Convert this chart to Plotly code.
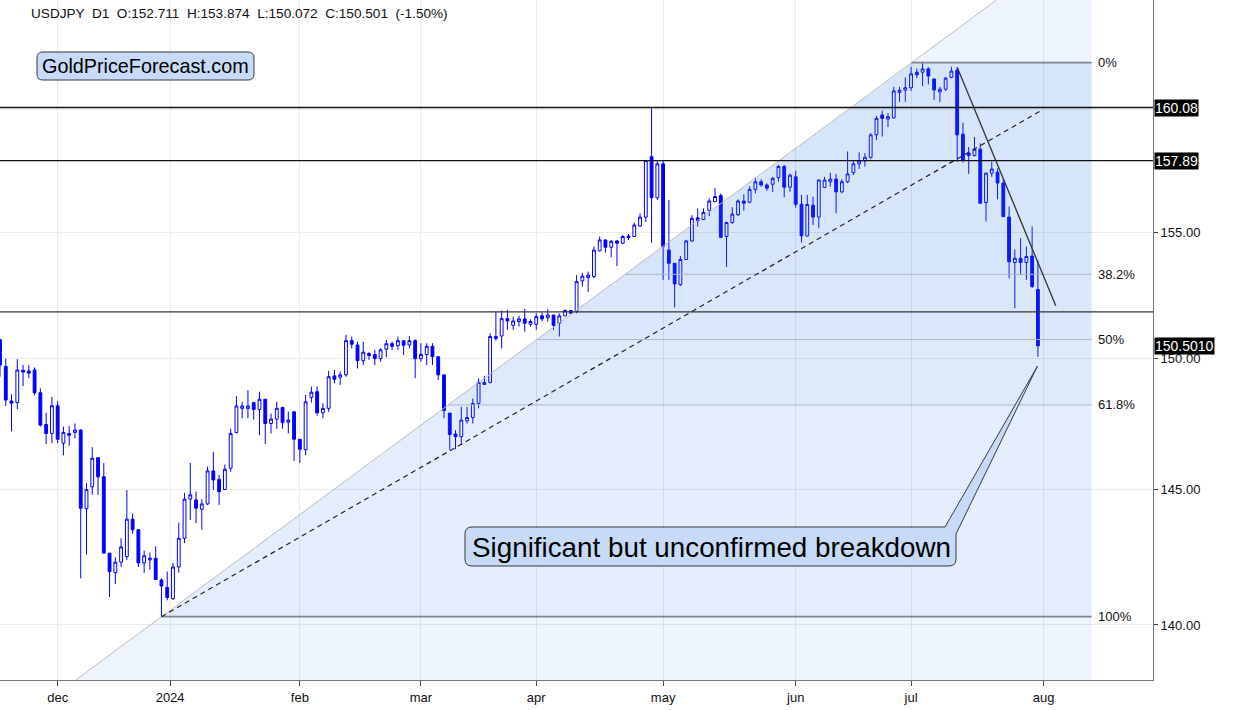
import math
import plotly.graph_objects as go

# ---------------- data ----------------
bar_index = list(range(181))

opens = [
    150.73, 149.70, 148.36, 148.30, 149.55, 149.52, 149.56, 148.68, 147.46, 147.12,
    148.18, 146.75, 147.12, 147.16, 147.25, 144.28, 145.10, 146.20, 145.48, 142.63,
    141.91, 142.30, 142.50, 143.89, 143.50, 142.27, 142.38, 142.44, 141.64, 141.37,
    140.96, 142.12, 143.18, 144.64, 144.61, 144.26, 144.46, 145.70, 145.38, 145.00,
    145.80, 147.16, 148.08, 148.08, 148.30, 148.04, 148.43, 147.50, 147.67, 148.12,
    147.55, 147.95, 146.90, 146.50, 148.50, 148.72, 147.91, 148.08, 149.33, 149.28,
    149.37, 150.70, 150.53, 149.92, 150.20, 150.16, 150.00, 150.37, 150.58, 150.50,
    150.70, 150.53, 150.70, 150.00, 150.16, 150.48, 150.07, 149.37, 147.90, 147.10,
    147.00, 147.60, 147.73, 148.27, 149.00, 149.08, 150.78, 150.88, 151.56, 151.30,
    151.45, 151.55, 151.34, 151.34, 151.67, 151.60, 151.70, 151.38, 151.67, 151.88,
    151.84, 153.05, 153.18, 153.22, 154.25, 154.68, 154.39, 154.64, 154.55, 154.84,
    154.82, 155.24, 155.60, 158.05, 156.38, 157.76, 154.28, 153.75, 152.90, 153.90,
    154.64, 155.57, 155.50, 155.87, 156.22, 156.47, 154.82, 155.38, 155.70, 156.25,
    156.20, 156.72, 157.03, 156.90, 156.93, 157.20, 157.65, 156.81, 157.23, 156.12,
    154.84, 156.08, 155.60, 156.80, 157.03, 157.14, 156.62, 157.03, 157.40, 157.76,
    157.88, 158.03, 158.95, 159.77, 159.60, 159.65, 160.70, 160.80, 160.90, 161.55,
    161.55, 161.69, 161.27, 160.73, 160.84, 161.33, 161.64, 158.98, 158.20, 158.10,
    158.36, 156.19, 157.38, 157.42, 156.98, 155.60, 153.78, 153.95, 153.78, 154.04,
    152.711,
]
highs = [
    150.77, 150.00, 148.62, 149.98, 149.75, 149.75, 149.66, 148.85, 147.91, 148.53,
    148.36, 147.38, 147.40, 147.50, 147.28, 145.24, 146.60, 146.20, 146.00, 142.63,
    142.48, 143.18, 144.98, 144.10, 143.50, 142.72, 142.65, 142.88, 141.70, 141.95,
    142.27, 143.76, 144.87, 146.00, 144.93, 144.64, 145.87, 146.42, 145.55, 145.94,
    147.30, 148.55, 148.33, 148.78, 148.33, 148.72, 148.43, 147.88, 148.33, 148.12,
    147.95, 147.95, 146.90, 148.60, 148.92, 148.92, 148.27, 149.53, 149.56, 149.50,
    150.93, 150.86, 150.66, 150.66, 150.25, 150.34, 150.40, 150.73, 150.66, 150.86,
    150.70, 150.88, 150.75, 150.60, 150.60, 150.60, 150.07, 149.37, 147.90, 147.25,
    148.14, 148.14, 148.46, 149.24, 149.33, 150.99, 151.83, 151.88, 151.90, 151.64,
    151.67, 151.95, 151.53, 151.77, 151.80, 151.93, 151.70, 151.77, 151.93, 151.90,
    153.28, 153.37, 153.42, 154.42, 154.82, 154.70, 154.68, 154.68, 154.88, 154.92,
    155.38, 155.75, 157.92, 160.08, 157.92, 157.90, 156.29, 153.75, 154.04, 154.68,
    155.68, 155.95, 155.95, 156.36, 156.77, 156.56, 155.42, 156.00, 156.32, 156.52,
    156.85, 157.20, 157.13, 156.97, 157.23, 157.72, 157.72, 157.37, 157.48, 156.50,
    156.50, 156.43, 157.13, 157.23, 157.40, 157.35, 157.13, 158.27, 157.92, 158.23,
    158.20, 159.02, 159.73, 159.95, 159.85, 160.94, 160.94, 161.33, 161.78, 161.71,
    161.99, 161.76, 161.27, 160.94, 161.36, 161.78, 161.75, 159.45, 158.45, 158.86,
    158.60, 157.40, 157.85, 157.58, 157.17, 156.03, 154.30, 154.75, 154.42, 155.22,
    153.874,
]
lows = [
    149.30, 148.17, 147.20, 148.05, 148.94, 149.24, 148.58, 147.38, 146.72, 146.75,
    146.75, 146.29, 146.65, 146.93, 141.70, 142.57, 144.80, 144.80, 142.63, 141.02,
    141.49, 142.12, 142.38, 143.35, 142.12, 141.90, 142.02, 141.64, 140.33, 140.90,
    140.91, 141.91, 143.00, 143.86, 143.74, 143.50, 144.42, 144.98, 144.42, 144.98,
    145.67, 147.12, 147.70, 147.70, 147.65, 147.05, 146.72, 147.12, 147.30, 147.30,
    147.12, 146.08, 146.00, 146.30, 148.30, 147.80, 147.70, 147.95, 149.04, 148.98,
    149.30, 150.40, 149.62, 149.75, 149.95, 149.75, 149.88, 150.05, 150.34, 150.34,
    150.14, 150.40, 149.24, 149.88, 149.75, 149.75, 149.17, 147.70, 146.50, 146.52,
    146.68, 147.50, 147.50, 148.08, 148.98, 149.04, 150.70, 150.40, 151.12, 151.12,
    151.25, 151.05, 151.25, 151.12, 151.45, 151.45, 151.12, 150.86, 151.67, 151.77,
    151.77, 152.82, 152.62, 153.15, 154.22, 154.18, 154.00, 153.64, 154.52, 154.68,
    154.80, 155.20, 155.40, 154.57, 156.29, 153.09, 153.09, 152.00, 152.85, 153.88,
    154.61, 155.22, 155.48, 155.64, 156.22, 154.75, 153.60, 155.33, 155.64, 155.86,
    156.16, 156.56, 156.83, 156.67, 156.62, 157.03, 156.40, 156.62, 155.98, 154.58,
    154.82, 155.28, 155.15, 156.77, 156.83, 155.75, 156.56, 156.97, 157.30, 157.55,
    157.65, 157.95, 158.74, 158.88, 159.27, 159.63, 160.32, 160.32, 160.77, 161.30,
    160.98, 161.04, 160.39, 160.30, 160.77, 161.30, 157.85, 157.82, 157.35, 158.07,
    156.16, 155.42, 157.23, 156.32, 155.62, 153.15, 151.97, 153.28, 153.09, 152.77,
    150.072,
]
closes = [
    149.75, 148.40, 148.28, 149.56, 149.48, 149.44, 148.68, 147.44, 147.12, 148.18,
    146.90, 147.16, 147.05, 147.25, 144.30, 145.00, 146.18, 145.48, 142.63, 141.95,
    142.30, 142.86, 143.89, 143.50, 142.27, 142.53, 142.44, 141.66, 141.42, 141.00,
    142.12, 143.18, 144.64, 144.80, 144.30, 144.46, 145.70, 145.36, 144.92, 145.76,
    147.12, 148.17, 148.17, 148.17, 148.04, 148.43, 147.50, 147.67, 148.08, 147.53,
    147.63, 146.90, 146.52, 148.33, 148.70, 147.91, 148.08, 149.30, 149.20, 149.37,
    150.70, 150.56, 149.92, 150.25, 150.12, 150.00, 150.34, 150.58, 150.48, 150.70,
    150.52, 150.70, 150.00, 150.16, 150.48, 150.07, 149.37, 148.00, 147.08, 147.00,
    147.63, 147.73, 148.27, 149.08, 149.08, 150.86, 150.86, 151.56, 151.47, 151.47,
    151.55, 151.38, 151.45, 151.64, 151.55, 151.70, 151.30, 151.67, 151.88, 151.77,
    153.02, 153.24, 153.28, 154.28, 154.68, 154.39, 154.63, 154.55, 154.82, 154.78,
    155.28, 155.60, 157.90, 156.38, 157.76, 154.42, 153.75, 152.93, 153.90, 154.64,
    155.55, 155.45, 155.79, 156.25, 156.43, 154.79, 155.38, 155.72, 156.25, 156.16,
    156.72, 157.03, 156.90, 156.77, 157.17, 157.65, 156.81, 157.30, 156.12, 154.85,
    156.11, 155.60, 157.10, 157.10, 157.14, 156.62, 157.03, 157.35, 157.76, 157.88,
    158.03, 158.95, 159.63, 159.63, 159.70, 160.77, 160.80, 160.90, 161.48, 161.44,
    161.69, 161.39, 160.81, 160.84, 161.30, 161.60, 158.95, 157.90, 158.10, 158.36,
    156.16, 157.38, 157.55, 156.98, 155.62, 153.81, 153.95, 153.78, 154.02, 152.83,
    150.501,
]

month_tick_pos = [10, 29.5, 52, 73, 93, 115, 138, 158, 181]
month_tick_text = ["dec", "2024", "feb", "mar", "apr", "may", "jun", "jul", "aug"]

price_ticks = [140, 145, 150, 155, 160]
price_tick_text = ["140.00", "145.00", "150.00", "155.00", ""]

marked_levels = [160.08, 157.89]          # labelled horizontal lines
marked_level_text = ["160.08", "157.89"]
support_level = 151.83
last_close = 150.501
last_close_text = "150.5010"

fib_labels = ["0%", "38.2%", "50%", "61.8%", "100%"]
fib_prices = [161.95, 153.31, 150.74, 148.21, 140.30]
fib_anchor_bars = [28, 158.1]             # bar of the 100% point, bar of the 0% point
fib_right_bar = 189.3

channel_bars = [28, 180.9]
channel_prices = [140.30, 160.00]
downtrend_bars = [166.0, 183.1]
downtrend_prices = [161.76, 152.07]

title_text = "USDJPY  D1  O:152.711  H:153.874  L:150.072  C:150.501  (-1.50%)"
brand_text = "GoldPriceForecast.com"
callout_text = "Significant but unconfirmed breakdown"

# ---------------- layout geometry ----------------
W, H = 1238, 710
ML, MR, MT, MB = 0, 85, 0, 30
PW, PH = W - ML - MR, H - MT - MB
X_RANGE = [0, 199.96]
Y_LOG_RANGE = [2.13994, 2.21643]
y_lo, y_hi = 10 ** Y_LOG_RANGE[0], 10 ** Y_LOG_RANGE[1]


def px(xp):
    return xp / PW


def py(yp):
    return 1 - yp / PH


def diag_bar(price):
    lo, hi = fib_prices[-1], fib_prices[0]
    t = (math.log(price) - math.log(lo)) / (math.log(hi) - math.log(lo))
    return fib_anchor_bars[0] + t * (fib_anchor_bars[1] - fib_anchor_bars[0])


def rounded_path(x0, y0, x1, y1, r, tip=None, base_left=None):
    def P(a, b):
        return f"{px(a):.5f},{py(b):.5f}"
    s = f"M {P(x0 + r, y0)} "
    if tip is not None:
        s += f"L {P(base_left, y0)} L {P(tip[0], tip[1])} L {P(x1, y0 + r)} "
    else:
        s += f"L {P(x1 - r, y0)} Q {P(x1, y0)} {P(x1, y0 + r)} "
    s += f"L {P(x1, y1 - r)} Q {P(x1, y1)} {P(x1 - r, y1)} "
    s += f"L {P(x0 + r, y1)} Q {P(x0, y1)} {P(x0, y1 - r)} "
    s += f"L {P(x0, y0 + r)} Q {P(x0, y0)} {P(x0 + r, y0)} Z"
    return s


fig = go.Figure()

# light shading to the right of the diagonal
fig.add_trace(go.Scatter(
    x=[diag_bar(y_lo), fib_right_bar, fib_right_bar, diag_bar(y_hi)],
    y=[y_lo, y_lo, y_hi, y_hi], mode="lines", line=dict(width=0),
    fill="toself", fillcolor="rgba(60,130,235,0.085)", hoverinfo="skip"))

band_alpha = [0.13, 0.11, 0.085, 0.055]
for k in range(4):
    top, bot = fib_prices[k], fib_prices[k + 1]
    fig.add_trace(go.Scatter(
        x=[diag_bar(top), fib_right_bar, fib_right_bar, diag_bar(bot)],
        y=[top, top, bot, bot], mode="lines", line=dict(width=0),
        fill="toself", fillcolor=f"rgba(60,130,235,{band_alpha[k]})", hoverinfo="skip"))

# diagonal trend of the retracement
fig.add_trace(go.Scatter(x=[diag_bar(y_lo), diag_bar(y_hi)], y=[y_lo, y_hi], mode="lines",
                         line=dict(color="#bdbdbd", width=1), hoverinfo="skip"))

# fib level lines
for k, p in enumerate(fib_prices):
    x_start = diag_bar(p)
    strong = k in (0, len(fib_prices) - 1)
    fig.add_trace(go.Scatter(x=[x_start, fib_right_bar], y=[p, p], mode="lines",
                             line=dict(color="#80858f" if strong else "#aeb6c4",
                                       width=1.8 if strong else 1),
                             hoverinfo="skip"))

# horizontal levels
for p in marked_levels:
    fig.add_trace(go.Scatter(x=[-5, 205], y=[p, p], mode="lines",
                             line=dict(color="#111111", width=1.3), hoverinfo="skip"))
fig.add_trace(go.Scatter(x=[-5, 205], y=[support_level, support_level], mode="lines",
                         line=dict(color="#333333", width=1.3), hoverinfo="skip"))

# dashed channel line and descending trendline
fig.add_trace(go.Scatter(x=channel_bars, y=channel_prices, mode="lines",
                         line=dict(color="#222222", width=1.2, dash="5px,4px"), hoverinfo="skip"))
fig.add_trace(go.Scatter(x=downtrend_bars, y=downtrend_prices, mode="lines",
                         line=dict(color="#333333", width=1.3), hoverinfo="skip"))

# candles
fig.add_trace(go.Candlestick(
    x=bar_index, open=opens, high=highs, low=lows, close=closes,
    increasing=dict(line=dict(color="#0000ff", width=1), fillcolor="rgba(0,0,0,0)"),
    decreasing=dict(line=dict(color="#0000ff", width=1), fillcolor="#0000ff"),
    whiskerwidth=0, hoverinfo="skip"))

annotations = []
annotations.append(dict(xref="paper", yref="paper", x=px(29), y=py(13), text=title_text,
                        showarrow=False, xanchor="left", yanchor="middle",
                        font=dict(size=13.6, color="#111111")))
annotations.append(dict(xref="paper", yref="paper", x=px(145.5), y=py(66), text=brand_text,
                        showarrow=False, xanchor="center", yanchor="middle",
                        font=dict(size=19.8, color="#000000")))
annotations.append(dict(xref="paper", yref="paper", x=px(711), y=py(547), text=callout_text,
                        showarrow=False, xanchor="center", yanchor="middle",
                        font=dict(size=27.8, color="#000000")))
for p, t in zip(marked_levels + [last_close], marked_level_text + [last_close_text]):
    annotations.append(dict(xref="paper", yref="y", x=1.0 + 1 / PW, y=math.log10(p), text=t,
                            showarrow=False, xanchor="left", yanchor="middle",
                            bgcolor="#000000", borderpad=0,
                            font=dict(size=14, color="#ffffff")))
for p, t in zip(fib_prices, fib_labels):
    annotations.append(dict(xref="paper", yref="y", x=px(1096), y=math.log10(p), text=t,
                            showarrow=False, xanchor="left", yanchor="middle",
                            font=dict(size=13, color="#111111")))

shapes = [
    dict(type="path", xref="paper", yref="paper", path=rounded_path(37, 52, 254, 80, 6),
         fillcolor="#c7daf8", line=dict(color="#3a3a3a", width=1), layer="above"),
    dict(type="path", xref="paper", yref="paper",
         path=rounded_path(465, 527, 956, 566, 7, tip=(1037.5, 366), base_left=945),
         fillcolor="#c7daf8", line=dict(color="#3a3a3a", width=1), layer="above"),
]

fig.update_layout(
    width=W, height=H, margin=dict(l=ML, r=MR, t=MT, b=MB),
    paper_bgcolor="white", plot_bgcolor="white", showlegend=False, hovermode=False,
    font=dict(family="Liberation Sans, Arial, sans-serif", size=13, color="#222222"),
    annotations=annotations, shapes=shapes,
    xaxis=dict(range=X_RANGE, tickmode="array", tickvals=month_tick_pos, ticktext=month_tick_text,
               showgrid=True, gridcolor="#ebebeb", gridwidth=1, zeroline=False,
               ticks="outside", ticklen=5, tickcolor="#444444",
               showline=True, linecolor="#777777", linewidth=1,
               rangeslider=dict(visible=False), tickfont=dict(size=13, color="#111111")),
    yaxis=dict(type="log", range=Y_LOG_RANGE, side="right", tickmode="array",
               tickvals=price_ticks, ticktext=price_tick_text,
               showgrid=True, gridcolor="#ebebeb", gridwidth=1, zeroline=False,
               ticks="outside", ticklen=4, tickcolor="#444444",
               showline=True, linecolor="#777777", linewidth=1,
               tickfont=dict(size=13, color="#111111")),
)

fig.write_html("out.html", config={"displayModeBar": False},
               post_script="document.body.style.margin='0';")
